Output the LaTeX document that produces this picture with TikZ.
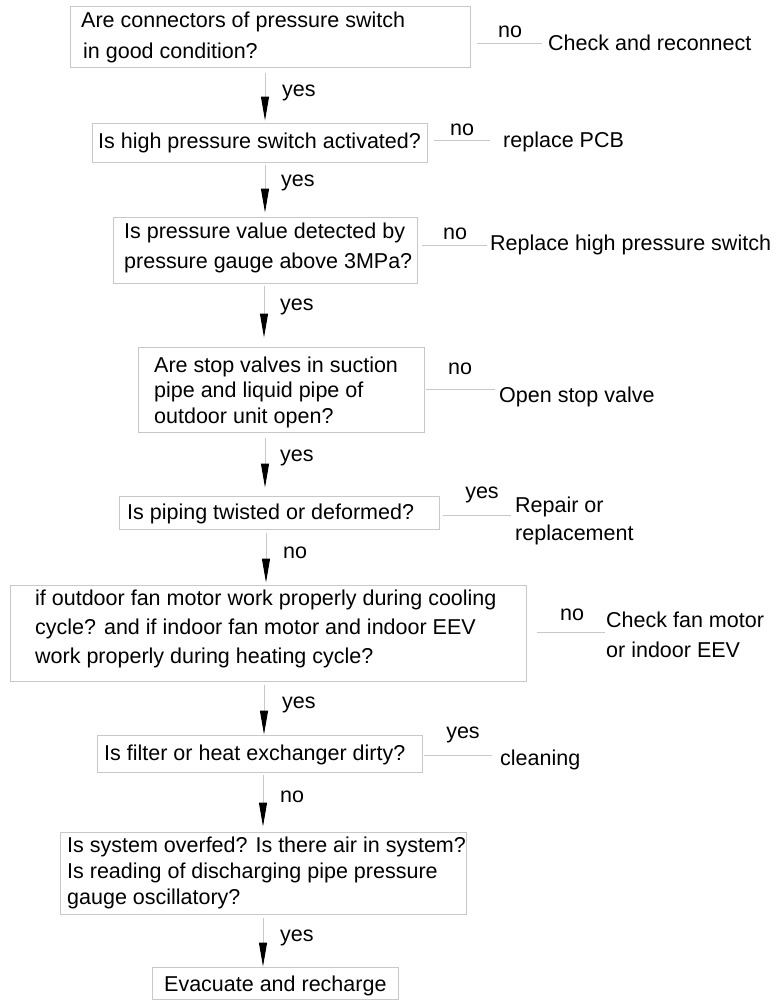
\documentclass[tikz,border=0pt]{standalone}
\usepackage{fontspec}
\setmainfont{Liberation Sans}
\usetikzlibrary{arrows.meta}
\definecolor{edgegray}{HTML}{C8C8C8}
\newcommand{\dfont}{\fontsize{21.5}{26}\selectfont}
\begin{document}
\begin{tikzpicture}[x=1pt,y=-1pt,
  box/.style={draw=edgegray, line width=1pt, inner sep=0pt},
  txt/.style={inner sep=0pt, anchor=west, align=left, font=\dfont},
  lbl/.style={inner sep=0pt, font=\dfont},
  conn/.style={draw=edgegray, line width=1pt},
  arr/.style={draw=edgegray, line width=1pt, -{Triangle[length=24pt,width=8pt,black]}}]
\useasboundingbox (0,0) rectangle (776,1001);

% boxes
\node[box, minimum width=400pt, minimum height=61pt] (b1) at (270,36.5) {};
\node[box, minimum width=335pt, minimum height=39pt] (b2) at (259.5,142.5) {};
\node[box, minimum width=304pt, minimum height=66pt] (b3) at (265,250) {};
\node[box, minimum width=286pt, minimum height=85pt] (b4) at (281,389.5) {};
\node[box, minimum width=320pt, minimum height=33pt] (b5) at (279,512.5) {};
\node[box, minimum width=516pt, minimum height=96pt] (b6) at (268,633) {};
\node[box, minimum width=325pt, minimum height=37pt] (b7) at (259.5,753.5) {};
\node[box, minimum width=406pt, minimum height=82pt] (b8) at (263,873) {};
\node[box, minimum width=246pt, minimum height=32.5pt] (b9) at (275,983.25) {};

% box texts
\node[txt, font=\fontsize{21.5}{31}\selectfont] (t1) at (81,37.5) {Are connectors of pressure switch\\\hspace{2pt}in good condition?};
\node[txt] (t2) at (98,143) {Is high pressure switch activated?};
\node[txt, font=\fontsize{21.5}{30}\selectfont] (t3) at (124,248) {Is pressure value detected by\\pressure gauge above 3MPa?};
\node[txt, font=\fontsize{21.5}{25.5}\selectfont] (t4) at (154,392) {Are stop valves in suction\\pipe and liquid pipe of\\outdoor unit open?};
\node[txt] (t5) at (127,514) {Is piping twisted or deformed?};
\node[txt, font=\fontsize{21.5}{29}\selectfont] (t6) at (35,629) {if outdoor fan motor work properly during cooling\\cycle? and if indoor fan motor and indoor EEV\\work properly during heating cycle?};
\node[txt] (t7) at (104,755) {Is filter or heat exchanger dirty?};
\node[txt, font=\fontsize{21.5}{26}\selectfont] (t8) at (67,873) {Is system overfed? Is there air in system?\\Is reading of discharging pipe pressure\\gauge oscillatory?};
\node[txt] (t9) at (164,986) {Evacuate and recharge};

% outcome texts
\node[txt] (o1) at (548,43) {Check and reconnect};
\node[txt] (o2) at (503,142) {replace PCB};
\node[txt] (o3) at (490,245) {Replace high pressure switch};
\node[txt] (o4) at (499,397) {Open stop valve};
\node[txt, font=\fontsize{21.5}{28}\selectfont] (o5) at (515,521) {Repair or\\replacement};
\node[txt, font=\fontsize{21.5}{30}\selectfont] (o6) at (606,635) {Check fan motor\\or indoor EEV};
\node[txt] (o7) at (500,760) {cleaning};

% side connectors
\coordinate (e1) at (542,43);
\coordinate (e2) at (490,140);
\coordinate (e3) at (487,245);
\coordinate (e4) at (495,389);
\coordinate (e5) at (511,515);
\coordinate (e6) at (605,632);
\coordinate (e7) at (492,755);
\draw[conn] (b1.east |- e1) ++(6,0) -- (e1);
\draw[conn] (b2.east |- e2) ++(6,0) -- (e2);
\draw[conn] (b3.east |- e3) ++(4,0) -- (e3);
\draw[conn] (b4.east |- e4) ++(1,0) -- (e4);
\draw[conn] (b5.east |- e5) ++(3,0) -- (e5);
\draw[conn] (b6.east |- e6) ++(10,0) -- (e6);
\draw[conn] (b7.east |- e7) ++(1,0) -- (e7);

\node[lbl] (n1) at (510,32) {no};
\node[lbl] (n2) at (462,130) {no};
\node[lbl] (n3) at (455,234) {no};
\node[lbl] (n4) at (460,369) {no};
\node[lbl] (n5) at (482,495) {yes};
\node[lbl] (n6) at (572,615) {no};
\node[lbl] (n7) at (463,735) {yes};

% vertical arrows
\coordinate (c1) at (265,0);
\coordinate (c2) at (265,0);
\coordinate (c3) at (264,0);
\coordinate (c4) at (265,0);
\coordinate (c5) at (266,0);
\coordinate (c6) at (264,0);
\coordinate (c7) at (263,0);
\coordinate (c8) at (263,0);
\draw[arr, shorten <=5pt, shorten >=2pt] (b1.south -| c1) -- (b2.north -| c1);
\draw[arr, shorten <=2pt, shorten >=4pt] (b2.south -| c2) -- (b3.north -| c2);
\draw[arr, shorten <=2pt, shorten >=9pt] (b3.south -| c3) -- (b4.north -| c3);
\draw[arr, shorten <=5pt, shorten >=8pt] (b4.south -| c4) -- (b5.north -| c4);
\draw[arr, shorten <=3pt, shorten >=2pt] (b5.south -| c5) -- (b6.north -| c5);
\draw[arr, shorten <=3pt, shorten >=0pt] (b6.south -| c6) -- (b7.north -| c6);
\draw[arr, shorten <=2pt, shorten >=5pt] (b7.south -| c7) -- (b8.north -| c7);
\draw[arr, shorten <=3pt, shorten >=0pt] (b8.south -| c8) -- (b9.north -| c8);

\node[txt] (v1) at (282,93) {yes};
\node[txt] (v2) at (281,183) {yes};
\node[txt] (v3) at (280,307) {yes};
\node[txt] (v4) at (280,458) {yes};
\node[txt] (v5) at (283,553) {no};
\node[txt] (v6) at (282,705) {yes};
\node[txt] (v7) at (280,797) {no};
\node[txt] (v8) at (280,938) {yes};
\end{tikzpicture}
\end{document}
